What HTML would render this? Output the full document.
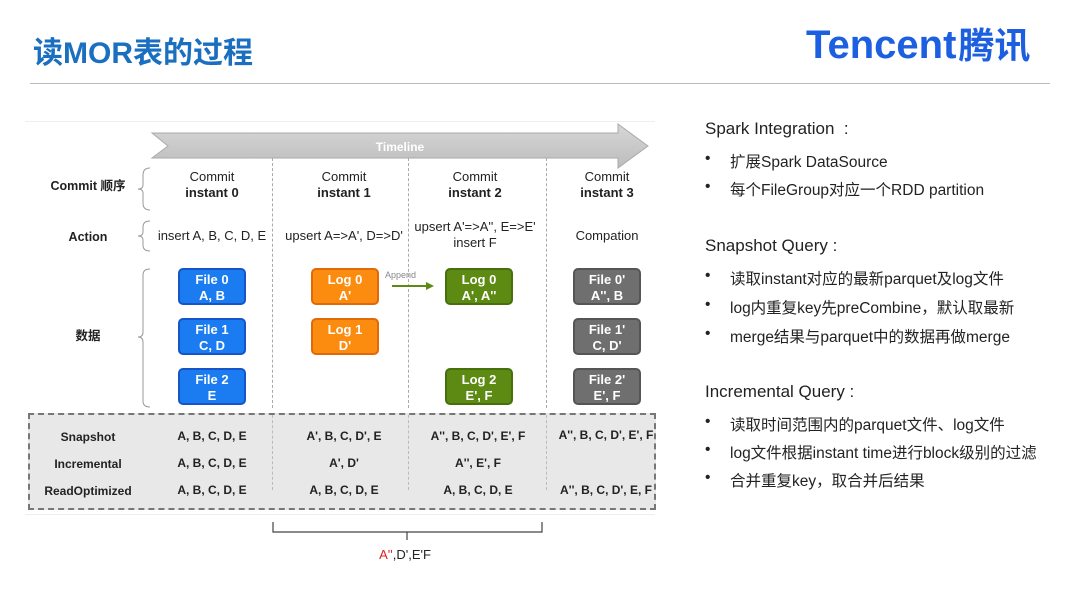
<!DOCTYPE html>
<html><head><meta charset="utf-8"><style>
body{margin:0;width:1080px;height:607px;position:relative;background:#fff;font-family:"Liberation Sans","Noto Sans CJK SC",sans-serif;overflow:hidden}
.a{position:absolute}
.c{text-align:center;font-size:13px;color:#222;line-height:16px}
.b{font-weight:bold}
.box{position:absolute;width:68px;height:37px;border-radius:5px;color:#fff;font-weight:bold;font-size:13px;line-height:16px;text-align:center;padding-top:2px;box-sizing:border-box}
.blue{background:#1a7cf0;border:2px solid #1555c8}
.or{background:#fb8c10;border:2px solid #e06a0a}
.gr{background:#5d8a12;border:2px solid #46700c}
.gy{background:#6f6f6f;border:2px solid #555}
.vd{position:absolute;top:158px;height:250px;border-left:1px dashed #aaa}
.rl{font-size:17px;color:#222;position:absolute;left:705px}
.li{font-size:15.5px;color:#222;position:absolute;left:730px}
.li:before{content:"•";position:absolute;left:-25px}
.q{position:absolute;font-size:12px;font-weight:bold;color:#222;text-align:center}
</style></head><body>
<div class="a b" style="left:33px;top:28px;font-size:30px;color:#1a6fc0">读MOR表的过程</div>
<div class="a" style="left:806px;top:22px;font-size:40px;font-weight:bold;color:#1c5fe0;letter-spacing:0px;line-height:46px">Tencent<span style="font-size:36px;letter-spacing:0;margin-left:2px">腾讯</span></div>
<div class="a" style="left:30px;top:83px;width:1020px;height:1px;background:#bbb"></div>
<div class="a" style="left:25px;top:121px;width:630px;height:1px;background:#eee"></div>
<svg class="a" style="left:150px;top:122px" width="502" height="48"><defs><linearGradient id="g" x1="0" y1="0" x2="0" y2="1"><stop offset="0" stop-color="#d6d6d6"/><stop offset="1" stop-color="#bdbdbd"/></linearGradient></defs><polygon points="2,11 468,11 468,2 498,24 468,46 468,36 2,36 18,24" fill="url(#g)" stroke="#aaa"/><text x="250" y="29" font-size="12" font-weight="bold" fill="#fff" text-anchor="middle" font-family="Liberation Sans">Timeline</text></svg>
<div class="vd" style="left:272px"></div><div class="vd" style="left:408px"></div><div class="vd" style="left:546px"></div>
<div class="a c b" style="left:38px;top:178px;width:100px;font-size:12.5px">Commit 顺序</div>
<div class="a c b" style="left:38px;top:229px;width:100px;font-size:12.5px">Action</div>
<div class="a c b" style="left:38px;top:328px;width:100px;font-size:12.5px">数据</div>
<svg class="a" style="left:136px;top:165px" width="20" height="250" fill="none" stroke="#999"><path d="M14,3 Q7,3 7,10 V20 Q7,24 2,24 Q7,24 7,28 V38 Q7,45 14,45"/><path d="M14,56 Q7,56 7,62 V67 Q7,71 2,71 Q7,71 7,75 V80 Q7,86 14,86"/><path d="M14,104 Q7,104 7,110 V167 Q7,172 2,172 Q7,172 7,177 V236 Q7,242 14,242"/></svg>
<div class="a c" style="left:152px;top:169px;width:120px">Commit<br><b>instant 0</b></div>
<div class="a c" style="left:284px;top:169px;width:120px">Commit<br><b>instant 1</b></div>
<div class="a c" style="left:415px;top:169px;width:120px">Commit<br><b>instant 2</b></div>
<div class="a c" style="left:547px;top:169px;width:120px">Commit<br><b>instant 3</b></div>
<div class="a c" style="left:152px;top:228px;width:120px">insert A, B, C, D, E</div>
<div class="a c" style="left:280px;top:228px;width:128px">upsert A=&gt;A', D=&gt;D'</div>
<div class="a c" style="left:408px;top:219px;width:134px">upsert A'=&gt;A'', E=&gt;E'<br>insert F</div>
<div class="a c" style="left:547px;top:228px;width:120px">Compation</div>
<div class="box blue" style="left:178px;top:268px">File 0<br>A, B</div>
<div class="box blue" style="left:178px;top:318px">File 1<br>C, D</div>
<div class="box blue" style="left:178px;top:368px">File 2<br>E</div>
<div class="box or" style="left:311px;top:268px">Log 0<br>A'</div>
<div class="box or" style="left:311px;top:318px">Log 1<br>D'</div>
<div class="box gr" style="left:445px;top:268px">Log 0<br>A', A''</div>
<div class="box gr" style="left:445px;top:368px">Log 2<br>E', F</div>
<div class="box gy" style="left:573px;top:268px">File 0'<br>A'', B</div>
<div class="box gy" style="left:573px;top:318px">File 1'<br>C, D'</div>
<div class="box gy" style="left:573px;top:368px">File 2'<br>E', F</div>
<div class="a" style="left:385px;top:270px;font-size:9px;color:#888">Append</div>
<svg class="a" style="left:390px;top:280px" width="50" height="12"><line x1="2" y1="6" x2="38" y2="6" stroke="#5d8a12" stroke-width="2"/><polygon points="36,2 44,6 36,10" fill="#5d8a12"/></svg>
<div class="a" style="left:28px;top:413px;width:628px;height:97px;background:#e8e8e8;border:2px dashed #777;box-sizing:border-box"></div>
<div class="vd" style="left:272px;top:415px;height:75px;border-color:#bbb"></div><div class="vd" style="left:408px;top:415px;height:75px;border-color:#bbb"></div><div class="vd" style="left:546px;top:415px;height:75px;border-color:#bbb"></div>
<div class="q" style="left:28px;top:430px;width:120px">Snapshot</div>
<div class="q" style="left:28px;top:457px;width:120px">Incremental</div>
<div class="q" style="left:28px;top:484px;width:120px">ReadOptimized</div>
<div class="q" style="left:152px;top:429px;width:120px">A, B, C, D, E</div>
<div class="q" style="left:152px;top:456px;width:120px">A, B, C, D, E</div>
<div class="q" style="left:152px;top:483px;width:120px">A, B, C, D, E</div>
<div class="q" style="left:280px;top:429px;width:128px">A', B, C, D', E</div>
<div class="q" style="left:280px;top:456px;width:128px">A', D'</div>
<div class="q" style="left:280px;top:483px;width:128px">A, B, C, D, E</div>
<div class="q" style="left:410px;top:429px;width:136px">A'', B, C, D', E', F</div>
<div class="q" style="left:410px;top:456px;width:136px">A'', E', F</div>
<div class="q" style="left:410px;top:483px;width:136px">A, B, C, D, E</div>
<div class="q" style="left:546px;top:428px;width:120px">A'', B, C, D', E', F</div>
<div class="q" style="left:546px;top:483px;width:120px">A'', B, C, D', E, F</div>
<div class="a" style="left:25px;top:514px;width:630px;height:1px;background:#eee"></div>
<svg class="a" style="left:270px;top:520px" width="280" height="22" fill="none" stroke="#444" stroke-width="1.2"><path d="M3,2 V12 H272 V2 M137,12 V20"/></svg>
<div class="a" style="left:360px;top:547px;width:90px;text-align:center;font-size:13px;color:#222"><span style="color:#e02020">A''</span>,D',E'F</div>
<div class="rl" style="top:119px">Spark Integration&nbsp; :</div>
<div class="li" style="top:150px">扩展Spark DataSource</div>
<div class="li" style="top:178px">每个FileGroup对应一个RDD partition</div>
<div class="rl" style="top:236px">Snapshot Query :</div>
<div class="li" style="top:267px">读取instant对应的最新parquet及log文件</div>
<div class="li" style="top:296px">log内重复key先preCombine，默认取最新</div>
<div class="li" style="top:325px">merge结果与parquet中的数据再做merge</div>
<div class="rl" style="top:382px">Incremental Query :</div>
<div class="li" style="top:413px">读取时间范围内的parquet文件、log文件</div>
<div class="li" style="top:441px">log文件根据instant time进行block级别的过滤</div>
<div class="li" style="top:469px">合并重复key，取合并后结果</div>
</body></html>
